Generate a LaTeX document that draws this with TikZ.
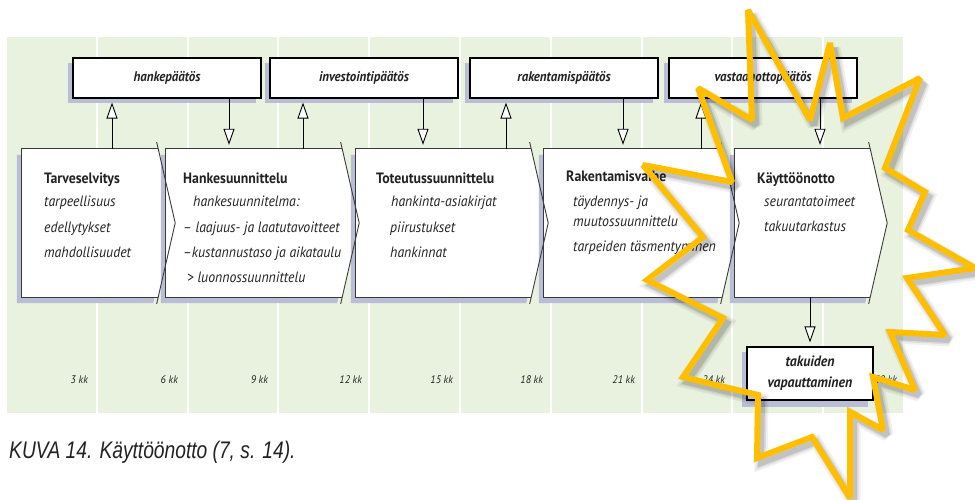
\documentclass[tikz,border=0pt]{standalone}
\usepackage{fontspec}
\usepackage{graphicx}
\setmainfont{PT Sans}[FakeStretch=0.92]
\newfontfamily\capfont{Liberation Sans}[FakeStretch=0.8]
\usetikzlibrary{arrows.meta,calc,shadows}
\definecolor{bggreen}{HTML}{E9F1DF}
\definecolor{shadowc}{HTML}{B9BDD5}
\definecolor{stary}{HTML}{FFBF00}
\definecolor{edgec}{HTML}{3A3A3A}
\definecolor{txtc}{HTML}{222222}
\begin{document}
\begin{tikzpicture}[x=1pt,y=-1pt,
  boxshadow/.style={drop shadow={shadow xshift=-5pt, shadow yshift=-5pt, fill=shadowc, opacity=1}},
  dbox/.style={draw=black, line width=1.1pt, fill=white, minimum width=188pt, minimum height=40pt, inner sep=0pt, text=txtc,
    font=\bfseries\itshape\fontsize{14}{15}\selectfont, boxshadow},
  phase/.style={inner sep=0pt, minimum height=148pt},
  ptitle/.style={anchor=base west, inner sep=0pt, text=txtc, font=\bfseries\fontsize{15}{16}\selectfont},
  pline/.style={anchor=base west, inner sep=0pt, text=txtc, font=\itshape\fontsize{15}{16}\selectfont},
  tlabel/.style={anchor=base east, inner sep=0pt, text=txtc, font=\itshape\fontsize{11}{12}\selectfont},
  oarrow/.style={draw=black, line width=0.9pt, -{Triangle[fill=white, length=16pt, width=11pt, line width=0.9pt]}, shorten >=4pt},
  pedge/.style={draw=edgec, line width=0.9pt}
]
\useasboundingbox (0,0) rectangle (975,500);
% background with time columns
\fill[bggreen] (7,37) rectangle (903,413);
\foreach \x in {97,188,278,369,460,551,642,732,823}
  \draw[white, line width=2pt] (\x,37) -- (\x,413);
% time labels
\node[tlabel] (k3)  at (88,383)  {3 kk};
\node[tlabel] (k6)  at (178,383) {6 kk};
\node[tlabel] (k9)  at (268,383) {9 kk};
\node[tlabel] (k12) at (362,383) {12 kk};
\node[tlabel] (k15) at (453,383) {15 kk};
\node[tlabel] (k18) at (543,383) {18 kk};
\node[tlabel] (k21) at (635,383) {21 kk};
\node[tlabel] (k24) at (725,383) {24 kk};
\node[tlabel] (k30) at (897,383) {30 kk};
% decision boxes
\node[dbox] (d1) at (167,78) {hankepäätös};
\node[dbox] (d2) at (364,78) {investointipäätös};
\node[dbox] (d3) at (564,78) {rakentamispäätös};
\node[dbox] (d4) at (763,78) {vastaanottopäätös};
% phase boxes (anchors)
\node[phase, minimum width=136pt] (p1) at (90,223) {};
\node[phase, minimum width=176pt] (p2) at (254,223) {};
\node[phase, minimum width=175pt] (p3) at (443.5,223) {};
\node[phase, minimum width=178pt] (p4) at (633,223) {};
\node[phase, minimum width=135pt] (p5) at (802.5,223) {};
\foreach \n in {1,...,5}{
  \coordinate (tip\n) at ($(p\n.east)+(17,0)$);
}
\foreach \n in {1,...,5}{
  \fill[white, drop shadow={shadow xshift=-5pt, shadow yshift=-6pt, fill=shadowc, opacity=1}]
    (p\n.north west) -- (p\n.north east) -- (tip\n) -- (p\n.south east) -- (p\n.south west) -- cycle;
}
\foreach \n in {1,...,5}{
  \draw[pedge] (p\n.north east) -- (p\n.north west) -- (p\n.south west) -- (p\n.south east);
  \draw[pedge] ($(p\n.north east)!-0.09!(tip\n)$) -- (tip\n) -- ($(p\n.south east)!-0.09!(tip\n)$);
}
% phase texts
\node[ptitle] (t1) at (44,183) {Tarveselvitys};
\node[pline] (t1a) at (44,207) {tarpeellisuus};
\node[pline] (t1b) at (44,232) {edellytykset};
\node[pline] (t1c) at (44,257) {mahdollisuudet};
\node[ptitle] (t2) at (183,183) {Hankesuunnittelu};
\node[pline] (t2a) at (193,207) {hankesuunnitelma:};
\node[pline] (t2b) at (183,232) {– laajuus- ja laatutavoitteet};
\node[pline] (t2c) at (183,257) {–kustannustaso ja aikataulu};
\node[pline] (t2d) at (187,282) {> luonnossuunnittelu};
\node[ptitle] (t3) at (376,183) {Toteutussuunnittelu};
\node[pline] (t3a) at (391,207) {hankinta-asiakirjat};
\node[pline] (t3b) at (390,232) {piirustukset};
\node[pline] (t3c) at (390,257) {hankinnat};
\node[ptitle] (t4) at (566,182) {Rakentamisvaihe};
\node[pline] (t4a) at (573,206) {täydennys- ja};
\node[pline] (t4b) at (573,226) {muutossuunnittelu};
\node[pline] (t4c) at (573,251) {tarpeiden täsmentyminen};
\node[ptitle] (t5) at (757,183) {Käyttöönotto};
\node[pline] (t5a) at (764,206) {seurantatoimeet};
\node[pline] (t5b) at (764,231) {takuutarkastus};
% guarantee release box
\node[dbox, minimum width=126pt, minimum height=53pt, align=center, font=\bfseries\itshape\fontsize{15}{21}\selectfont,
  drop shadow={shadow xshift=-5pt, shadow yshift=-7pt, fill=shadowc, opacity=1}] (tv) at (810,373.5) {takuiden\\vapauttaminen};
% arrow x positions
\coordinate (u1) at (112,0);
\coordinate (u2) at (303,0);
\coordinate (u3) at (506,0);
\coordinate (u4) at (701,0);
\coordinate (w1) at (229,0);
\coordinate (w2) at (423,0);
\coordinate (w3) at (623,0);
\coordinate (w4) at (820,0);
\coordinate (w5) at (810,0);
\draw[oarrow] (p1.north -| u1) -- (d1.south -| u1);
\draw[oarrow] (p2.north -| u2) -- (d2.south -| u2);
\draw[oarrow] (p3.north -| u3) -- (d3.south -| u3);
\draw[oarrow] (p4.north -| u4) -- (d4.south -| u4);
\draw[oarrow] (d1.south -| w1) -- (p2.north -| w1);
\draw[oarrow] (d2.south -| w2) -- (p3.north -| w2);
\draw[oarrow] (d3.south -| w3) -- (p4.north -| w3);
\draw[oarrow] (d4.south -| w4) -- (p5.north -| w4);
\draw[oarrow] (p5.south -| w5) -- (tv.north -| w5);
% caption
\node[anchor=base west, inner sep=0pt, text=txtc, font=\capfont\itshape\fontsize{24}{26}\selectfont] (cap) at (9,458)
  {KUVA 14. Käyttöönotto (7, s. 14).};
% highlight star with soft shadow
\tikzset{starpts/.style={insert path={(748,10) -- (810,120) -- (830,43) -- (843,118) -- (920,78) -- (885,168) -- (925,192) -- (908,230) -- (975,268) -- (907,278) -- (945,335) -- (890,332) -- (915,390) -- (873,377) -- (883,430) -- (850,412) -- (850,498) -- (812,437) -- (757,458) -- (758,395) -- (683,377) -- (723,318) -- (647,280) -- (703,237) -- (643,165) -- (732,182) -- (698,88) -- (752,120) -- cycle}}}
\begin{scope}[shift={(4,5)}, line join=miter, miter limit=2]
  \draw[black, opacity=0.06, line width=13pt] [starpts];
  \draw[black, opacity=0.08, line width=9pt] [starpts];
  \draw[black, opacity=0.12, line width=6pt] [starpts];
\end{scope}
\draw[stary, line width=6pt, line join=miter, miter limit=2] [starpts];
\end{tikzpicture}
\end{document}
